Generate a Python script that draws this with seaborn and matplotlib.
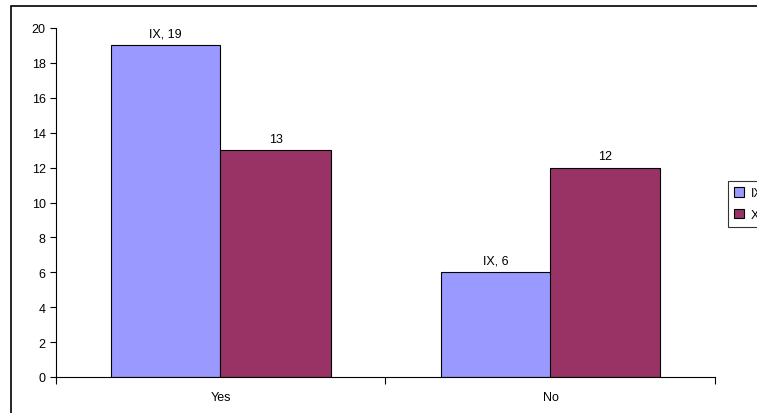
import matplotlib
matplotlib.use("Agg")
import matplotlib.pyplot as plt
import matplotlib.patches as mpatches
import numpy as np
import pandas as pd
import seaborn as sns

categories = ["Yes", "No"]
series = ["IX", "XI"]
ix_values = [19, 6]
xi_values = [13, 12]
bar_labels_ix = ["IX, 19", "IX, 6"]
bar_labels_xi = ["13", "12"]
y_ticks = [0, 2, 4, 6, 8, 10, 12, 14, 16, 18, 20]
colors = ["#9999FF", "#993366"]

df = pd.DataFrame({
    "answer": categories * 2,
    "grade": [series[0]] * 2 + [series[1]] * 2,
    "count": ix_values + xi_values,
})

sns.set_style("white")
plt.rcParams["font.family"] = ["Liberation Sans", "DejaVu Sans"]
plt.rcParams["text.color"] = "black"
plt.rcParams["xtick.color"] = "black"
plt.rcParams["ytick.color"] = "black"

fig = plt.figure(figsize=(7.57, 4.14), dpi=100)
ax = fig.add_axes([55.5 / 757, 1 - 378 / 414, 660 / 757, (378 - 29) / 414])

sns.barplot(data=df, x="answer", y="count", hue="grade", order=categories,
            hue_order=series, palette=colors, width=2 / 3, gap=0,
            edgecolor="black", linewidth=0.8, saturation=1, ax=ax,
            legend=False)

# value labels above bars
for container, labels in zip(ax.containers, [bar_labels_ix, bar_labels_xi]):
    ax.bar_label(container, labels=labels, padding=4, fontsize=9)

ax.set_xlim(-0.5, 1.5)
ax.set_ylim(0, 20)
ax.set_yticks(y_ticks)
ax.set_xticks([-0.5, 0.5, 1.5])
ax.set_xticklabels([])
ax.set_xticks([0, 1], minor=True)
ax.set_xticklabels(categories, minor=True)
ax.tick_params(axis="x", which="minor", length=0, pad=10, labelsize=9)
ax.tick_params(axis="x", which="major", length=5, width=0.8, direction="out",
               bottom=True)
ax.tick_params(axis="y", length=4, width=0.8, direction="out", left=True,
               labelsize=9, pad=3)
ax.set_xlabel("")
ax.set_ylabel("")
sns.despine(ax=ax)
for s in ["left", "bottom"]:
    ax.spines[s].set_color("black")
    ax.spines[s].set_linewidth(0.8)

# outer chart border (runs off the right and bottom of the canvas)
fig.patches.append(mpatches.Rectangle((11 / 757, -0.1), 1.2, 1 - 7 / 414 + 0.1,
                                      transform=fig.transFigure, fill=False,
                                      edgecolor="black", linewidth=1.2))

# legend is clipped by the right edge, as in the original chart
handles = [mpatches.Patch(facecolor=c, edgecolor="black", linewidth=0.8, label=s)
           for c, s in zip(colors, series)]
leg = fig.legend(handles=handles, loc="upper left",
                 bbox_to_anchor=(728 / 757, 1 - 182 / 414), frameon=True,
                 fancybox=False, fontsize=9, handlelength=0.8, handleheight=0.8,
                 handletextpad=0.5, borderpad=0.5, labelspacing=0.75,
                 borderaxespad=0)
leg.get_frame().set_edgecolor("black")
leg.get_frame().set_linewidth(0.8)

fig.savefig("out.png", dpi=100)
